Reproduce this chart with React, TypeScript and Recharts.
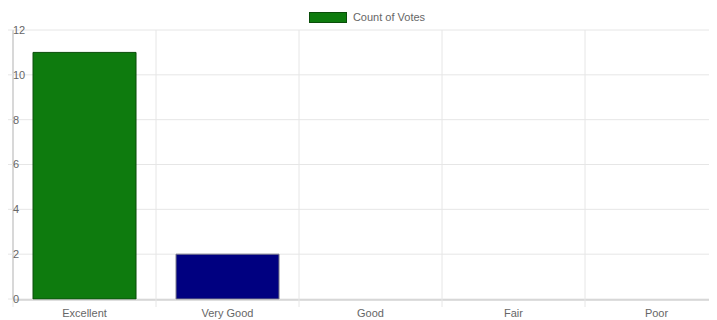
import React from "react"
import { BarChart, Bar, Cell, XAxis, YAxis, CartesianGrid, Legend } from "recharts"

const ratings = ["Excellent", "Very Good", "Good", "Fair", "Poor"]
const votes = [11, 2, 0, 0, 0]
const barFills = ["#0e7b0e", "#000080", "#0e7b0e", "#0e7b0e", "#0e7b0e"]
const barStrokes = ["#0a4d0a", "#7a7a8a", "#0a4d0a", "#0a4d0a", "#0a4d0a"]
const yTicks = [0, 2, 4, 6, 8, 10, 12]
const bandTicks = [0, 1, 2, 3, 4, 5]

const data = ratings.map((rating, i) => ({ rating, votes: votes[i], band: i }))

const FONT = "'Liberation Sans', Arial, Helvetica, sans-serif"
const GRID = "#e6e6e6"
const AXIS = "#bdbdbd"

function YTick(props: any) {
  const { x, y, payload } = props
  return (
    <text x={x + 9} y={y} dy="0.35em" textAnchor="start" fontSize={11} fill="#666" fontFamily={FONT}>
      {payload.value}
    </text>
  )
}

function NoLabel() {
  return <g />
}

function VotesLegend() {
  return (
    <div style={{ height: 22, paddingTop: 4, boxSizing: "border-box", fontFamily: FONT, fontSize: 11, color: "#666" }}>
      <div style={{ display: "flex", justifyContent: "center", alignItems: "center", height: 10, paddingRight: 6 }}>
        <span style={{ display: "inline-block", width: 36, height: 9, background: "#0e7b0e", border: "1px solid #0a4d0a", marginRight: 6 }} />
        <span style={{ lineHeight: "10px" }}>Count of Votes</span>
      </div>
    </div>
  )
}

export default function App() {
  return (
    <div style={{ marginLeft: -8, marginTop: -8, width: 717, height: 320, overflow: "hidden", background: "#fff" }}>
      <BarChart
        width={730}
        height={320}
        data={data}
        margin={{ top: 8, right: 2, bottom: 0, left: 12 }}
        barCategoryGap="14%"
      >
        <CartesianGrid xAxisId="band" stroke={GRID} />
        <XAxis
          xAxisId="cat"
          dataKey="rating"
          height={20}
          tickSize={8}
          tickMargin={1}
          tickLine={false}
          axisLine={{ stroke: AXIS }}
          tick={{ fontSize: 11, fill: "#666", fontFamily: FONT }}
          interval={0}
        />
        <XAxis
          xAxisId="band"
          dataKey="band"
          type="number"
          domain={[0, 5]}
          allowDataOverflow
          ticks={bandTicks}
          tick={<NoLabel />}
          tickSize={8}
          tickLine={{ stroke: GRID }}
          axisLine={false}
          height={1}
        />
        <YAxis
          width={1}
          domain={[0, 12]}
          ticks={yTicks}
          tickSize={9}
          tickMargin={0}
          tickLine={{ stroke: GRID }}
          axisLine={{ stroke: AXIS }}
          tick={<YTick />}
        />
        <Legend verticalAlign="top" align="center" content={<VotesLegend />} />
        <Bar dataKey="votes" xAxisId="cat" strokeWidth={1} isAnimationActive={false}>
          {data.map((d, i) => (
            <Cell key={d.rating} fill={barFills[i]} stroke={barStrokes[i]} />
          ))}
        </Bar>
      </BarChart>
    </div>
  )
}
